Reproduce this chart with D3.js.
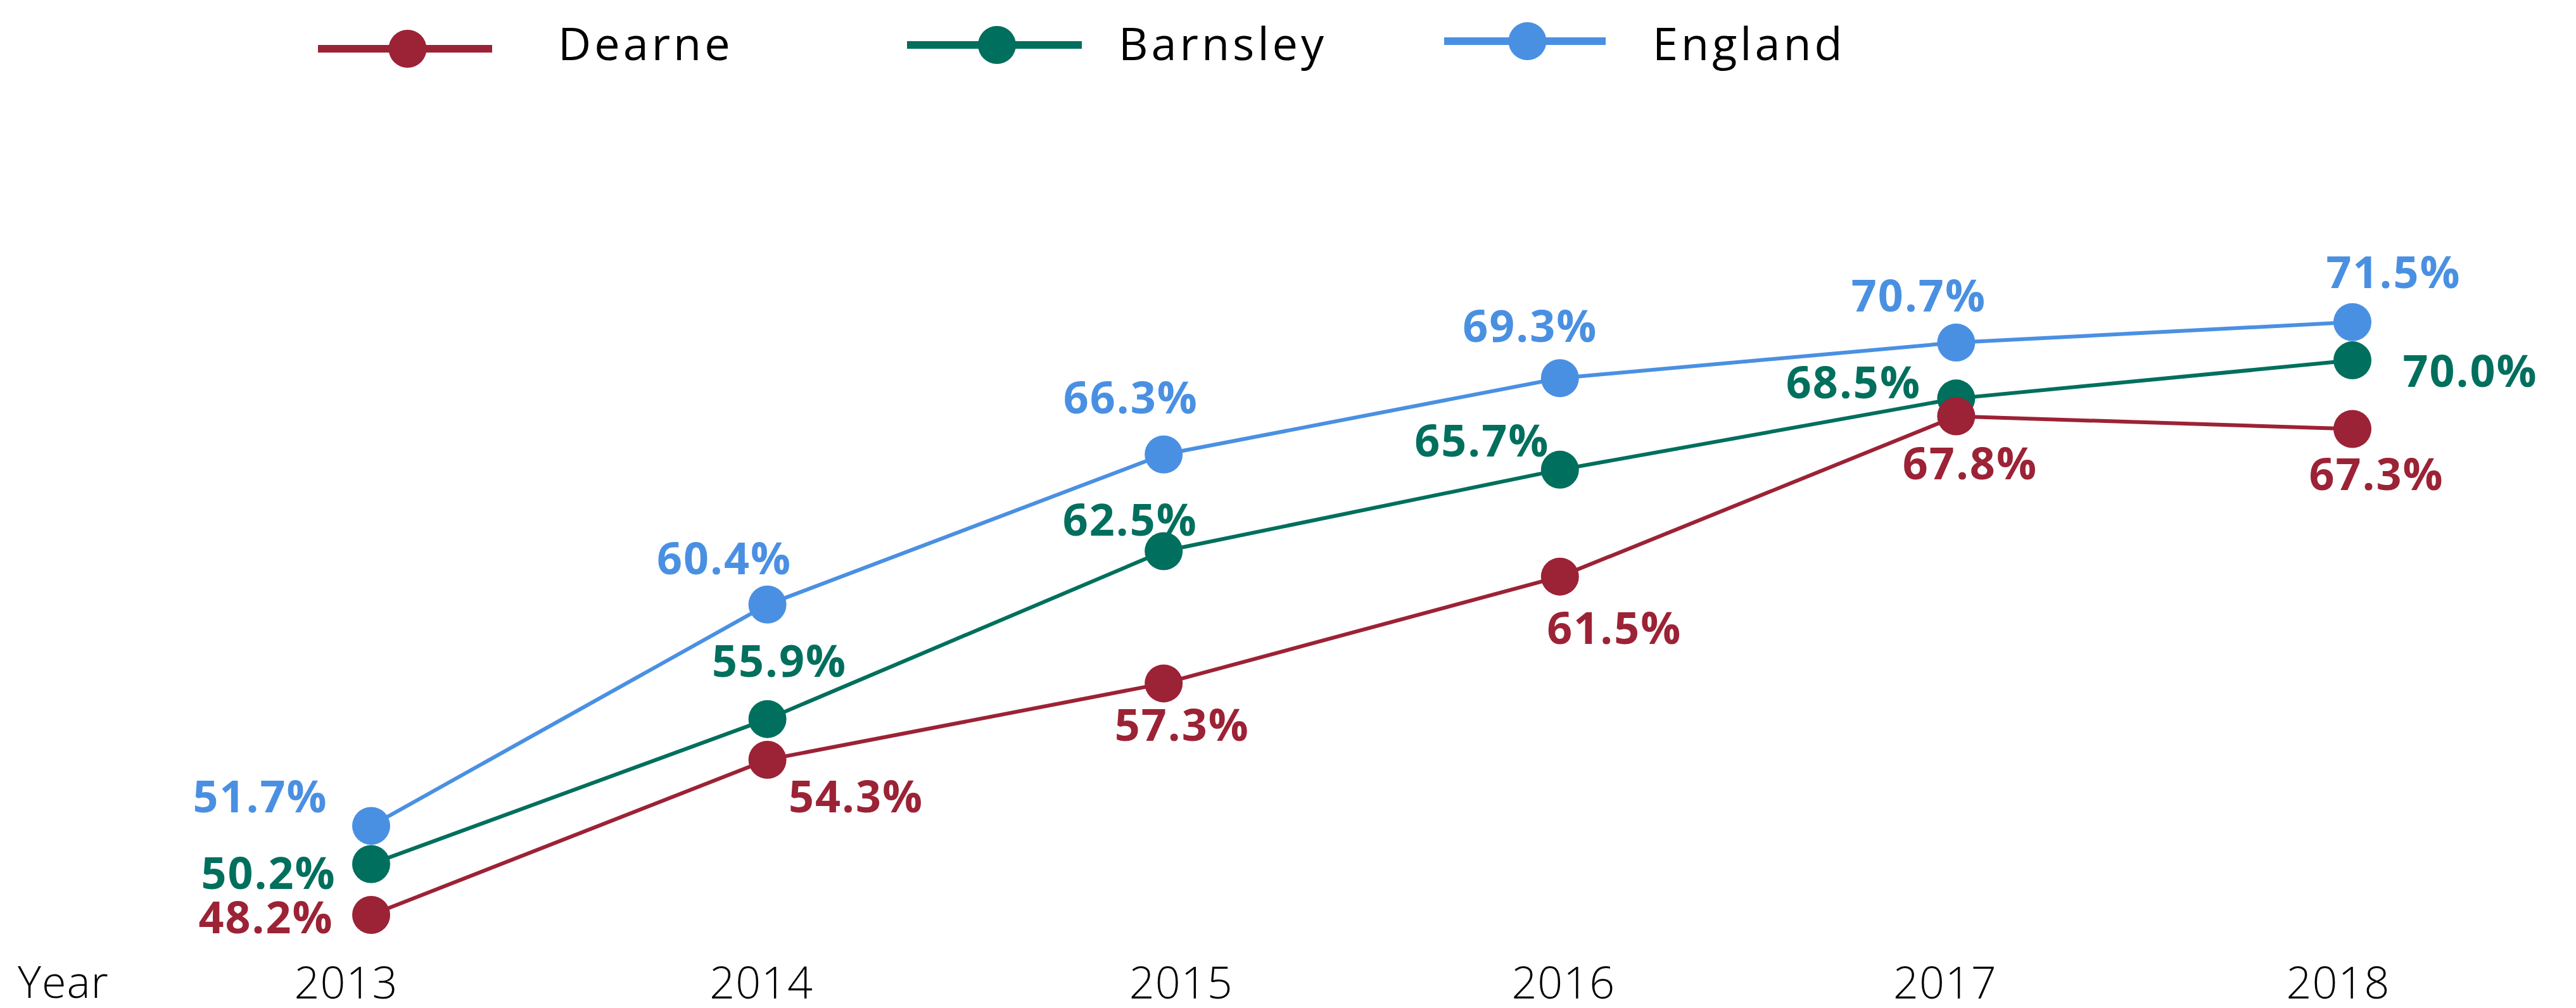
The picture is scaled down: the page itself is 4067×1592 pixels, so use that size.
<!DOCTYPE html>
<html>
<head>
<meta charset="utf-8">
<script src="https://cdn.jsdelivr.net/npm/d3@7"></script>
<style>
  body { margin: 0; background: #fff; }
  text { font-family: "Open Sans", sans-serif; }
</style>
</head>
<body>
<div id="chart-area"></div>
<script>
// data
var years = ["2013", "2014", "2015", "2016", "2017", "2018"];
var seriesNames = ["England", "Barnsley", "Dearne"];
var england = [51.7, 60.4, 66.3, 69.3, 70.7, 71.5];
var barnsley = [50.2, 55.9, 62.5, 65.7, 68.5, 70.0];
var dearne = [48.2, 54.3, 57.3, 61.5, 67.8, 67.3];
var legendOrder = ["Dearne", "Barnsley", "England"];

var colors = { Dearne: "#9c2235", Barnsley: "#006f5d", England: "#4a90e2" };

// label offsets (dx to text centre, dy to baseline) relative to each marker
var labelOffsets = {
    England:  [[-175, -21], [-68, -48], [-52, -65], [-47, -57], [-59, -49], [65, -54]],
    Barnsley: [[-162, 39], [19, -67], [-53, -24], [-123, -21], [-162, 0], [186, 42]],
    Dearne:   [[-166, 29], [140, 83], [29, 91], [86, 106], [22, 100], [38, 96]]
};
// the year labels in the original sit a little off the markers
var tickShift = [-40, -10, 27, 5, -18, -23];

var values = { England: england, Barnsley: barnsley, Dearne: dearne };

var width = 4067, height = 1592;

var svg = d3.select("#chart-area").append("svg")
    .attr("width", width)
    .attr("height", height);

var x = d3.scalePoint()
    .domain(years)
    .range([586, 3714]);

var y = d3.scaleLinear()
    .domain([45, 75])
    .range([1573.6, 368.2]);

// x axis labels
var xAxis = d3.axisBottom(x).tickSize(0).tickPadding(0);
var gx = svg.append("g")
    .attr("transform", "translate(0,1527)")
    .call(xAxis);
gx.select(".domain").remove();
gx.selectAll("text")
    .attr("dy", "0.71em")
    .attr("y", 0)
    .attr("x", (d, i) => tickShift[i])
    .style("font-family", "'Open Sans', sans-serif")
    .style("font-weight", 300)
    .style("font-size", "70px")
    .style("letter-spacing", "1px")
    .attr("fill", "#000");

svg.append("text")
    .attr("x", 28)
    .attr("y", 1576)
    .style("font-weight", 300)
    .style("font-size", "70px")
    .style("letter-spacing", "1px")
    .text("Year");

var line = d3.line()
    .x((d, i) => x(years[i]))
    .y(d => y(d));

seriesNames.forEach(name => {
    var g = svg.append("g");
    g.append("path")
        .datum(values[name])
        .attr("d", line)
        .attr("fill", "none")
        .attr("stroke", colors[name])
        .attr("stroke-width", 6);

    g.selectAll("circle")
        .data(values[name])
        .enter()
        .append("circle")
        .attr("cx", (d, i) => x(years[i]))
        .attr("cy", d => y(d))
        .attr("r", 30)
        .attr("fill", colors[name]);
});

// value labels on top
seriesNames.forEach(name => {
    svg.append("g").selectAll("text")
        .data(values[name])
        .enter()
        .append("text")
        .attr("x", (d, i) => x(years[i]) + labelOffsets[name][i][0])
        .attr("y", (d, i) => y(d) + labelOffsets[name][i][1])
        .attr("text-anchor", "middle")
        .style("font-weight", 700)
        .style("font-size", "70px")
        .style("letter-spacing", "2px")
        .attr("fill", colors[name])
        .text(d => d.toFixed(1) + "%");
});

// legend
var legendX = [502, 1432, 2280];
var legendY = [77, 71, 65];
var legendLen = [275, 276, 255];
var legendTextX = [881, 1766, 2609];

legendOrder.forEach((name, i) => {
    var g = svg.append("g");
    g.append("line")
        .attr("x1", legendX[i])
        .attr("x2", legendX[i] + legendLen[i])
        .attr("y1", legendY[i])
        .attr("y2", legendY[i])
        .attr("stroke", colors[name])
        .attr("stroke-width", 12);
    g.append("circle")
        .attr("cx", legendX[i] + legendLen[i] / 2 + 4)
        .attr("cy", legendY[i])
        .attr("r", 30)
        .attr("fill", colors[name]);
    g.append("text")
        .attr("x", legendTextX[i])
        .attr("y", 95)
        .style("font-weight", 400)
        .style("font-size", "72px")
        .style("letter-spacing", "5px")
        .attr("fill", "#000")
        .text(name);
});
</script>
</body>
</html>
